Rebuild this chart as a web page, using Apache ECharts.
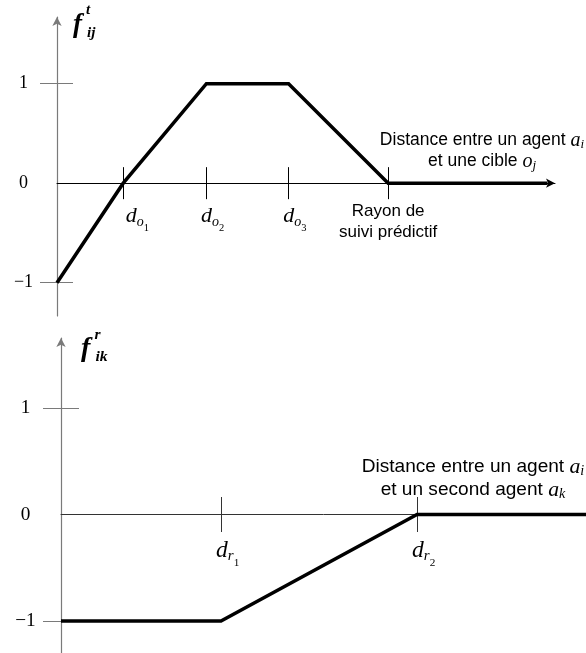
<!DOCTYPE html>
<html>
<head>
<meta charset="utf-8">
<script src="https://cdn.jsdelivr.net/npm/echarts@6/dist/echarts.min.js"></script>
<style>
  html, body { margin: 0; padding: 0; background: #fff; }
  #chart { width: 586px; height: 653px; }
</style>
</head>
<body>
<div id="chart"></div>
<script>
// Upper panel: target-tracking term as a function of agent/target distance
const trackX = [0, 1.33, 3.0, 4.65, 6.65, 9.85];
const trackY = [-1, 0, 1, 1, 0, 0];
const trackMarks = [1.33, 3.0, 4.65, 6.65];
const trackMarkNames = ['do1', 'do2', 'do3', 'radius'];

// Lower panel: repulsion term as a function of agent/agent distance
const repelX = [0, 3.2, 7.12, 10.5];
const repelY = [-1, -1, 0, 0];
const repelMarks = [3.2, 7.12];
const repelMarkNames = ['dr1', 'dr2'];

// Vertical axis ticks and labels (both panels)
const yTickValues = [-1, 1];
const yLabelValues = [-1, 0, 1];

const SERIF = '"Liberation Serif", "DejaVu Serif", serif';
const SANS = '"Liberation Sans", Arial, sans-serif';

const markText = {
  do1: '{padWide|}{d|d}{s|o}{ss|1}',
  do2: '{pad|}{d|d}{s|o}{ss|2}',
  do3: '{pad|}{d|d}{s|o}{ss|3}',
  radius: '{txt|Rayon de}\n{txt|suivi prédictif}',
  dr1: '{pad|}{d|d}{s|r}{ss|1}',
  dr2: '{pad|}{d|d}{s|r}{ss|2}'
};

// distance labels: italic d with a lowered subscript and a further lowered index
function markRich(k) {
  return {
    d: { fontFamily: SERIF, fontStyle: 'italic', fontSize: 22 * k, lineHeight: 36 * k,
         verticalAlign: 'top', padding: [4.5 * k, 0, 0, 0], color: '#000' },
    s: { fontFamily: SERIF, fontStyle: 'italic', fontSize: 14 * k, lineHeight: 14 * k,
         verticalAlign: 'bottom', padding: [0, 0, 8 * k, 0], color: '#000' },
    ss: { fontFamily: SERIF, fontSize: 10.5 * k, lineHeight: 10.5 * k,
          verticalAlign: 'bottom', padding: [0, 0, 3.6 * k, 0], color: '#000' },
    pad: { width: 12.5 * k },
    padWide: { width: 28.5 * k },
    txt: { fontFamily: SANS, fontSize: 17 * k, lineHeight: 21 * k, color: '#000' }
  };
}

function nameRich(k) {
  return {
    t: { fontFamily: SANS, fontSize: 17.5 * k, lineHeight: 21 * k, color: '#000' },
    m: { fontFamily: SERIF, fontStyle: 'italic', fontSize: 20 * k, lineHeight: 21 * k, color: '#000' },
    sub: { fontFamily: SERIF, fontStyle: 'italic', fontSize: 13 * k, lineHeight: 12 * k,
           verticalAlign: 'bottom', color: '#000' }
  };
}

// function symbol f with stacked superscript and subscript
function fRich(k) {
  return {
    f: { fontFamily: SERIF, fontStyle: 'italic', fontWeight: 'bold', fontSize: 27 * k,
         lineHeight: 38, padding: [0, 4 * k, 2, 0], verticalAlign: 'bottom', color: '#000' },
    sup: { fontFamily: SERIF, fontStyle: 'italic', fontWeight: 'bold', fontSize: 15 * k,
           lineHeight: 16 * k, verticalAlign: 'top', width: 1, color: '#000' },
    sub: { fontFamily: SERIF, fontStyle: 'italic', fontWeight: 'bold', fontSize: 15 * k,
           lineHeight: 16 * k, verticalAlign: 'bottom', color: '#000' }
  };
}

function lookup(values, names, v) {
  const i = values.findIndex(x => Math.abs(x - v) < 1e-6);
  return i < 0 ? '' : markText[names[i]];
}

const yLabelFmt = v => (v < 0 ? '\u2212' + Math.abs(v) : String(v));

const off = { show: false };

// builds the main x axis plus a twin axis that carries the upward half of each tick
function xAxes(grid, max, marks, names, k, o) {
  return [
    {
      gridIndex: grid, type: 'value', min: 0, max: max, position: 'bottom',
      splitLine: off,
      axisLine: { onZero: true, symbol: o.arrow ? ['none', 'arrow'] : 'none', symbolSize: [7, 9],
                  lineStyle: { color: o.color, width: 1 } },
      axisTick: { show: true, customValues: marks, length: o.tick, lineStyle: { color: o.color, width: 1 } },
      axisLabel: { show: true, customValues: marks, margin: o.margin, align: 'center',
                   formatter: v => lookup(marks, names, v), rich: markRich(k) },
      name: o.name, nameLocation: 'end', nameGap: o.nameGap,
      nameTextStyle: { align: 'center', verticalAlign: 'bottom', padding: [0, 0, o.namePad, 0], rich: nameRich(o.nameK) }
    },
    {
      gridIndex: grid, type: 'value', min: 0, max: max, position: 'top',
      splitLine: off, axisLabel: off,
      axisLine: { show: false, onZero: true },
      axisTick: { show: true, customValues: marks, length: o.tick, lineStyle: { color: o.color, width: 1 } }
    }
  ];
}

function yAxes(grid, min, max, k, o) {
  return [
    {
      gridIndex: grid, type: 'value', min: min, max: max, position: 'left',
      splitLine: off,
      axisLine: { onZero: true, symbol: ['none', 'arrow'], symbolSize: [7, 9],
                  lineStyle: { color: '#7a7a7a', width: 1.2 } },
      axisTick: { show: true, customValues: yTickValues, length: o.tickL, lineStyle: { color: '#7a7a7a', width: 1 } },
      axisLabel: { show: true, customValues: yLabelValues, margin: o.labelMargin, align: 'center',
                   formatter: yLabelFmt, fontFamily: SERIF, fontSize: 18 * k, color: '#000' },
      name: o.name, nameLocation: 'end', nameGap: o.nameGap,
      nameTextStyle: { align: 'left', verticalAlign: 'middle', padding: [0, 0, 0, o.namePadLeft], rich: fRich(o.fK) }
    },
    {
      gridIndex: grid, type: 'value', min: min, max: max, position: 'right',
      splitLine: off, axisLabel: off,
      axisLine: { show: false, onZero: true },
      axisTick: { show: true, customValues: yTickValues, length: o.tickR, lineStyle: { color: '#7a7a7a', width: 1 } }
    }
  ];
}

const chart = echarts.init(document.getElementById('chart'), null, { renderer: 'canvas' });

const option = {
  animation: false,
  backgroundColor: '#fff',
  grid: [
    { left: 57, top: 17, width: 498, height: 299, containLabel: false, outerBoundsMode: 'none' },
    { left: 61, top: 338, width: 525, height: 315, containLabel: false, outerBoundsMode: 'none' }
  ],
  xAxis: [
    ...xAxes(0, 10, trackMarks, trackMarkNames, 1, {
      arrow: true, color: '#000', tick: 16, margin: -115, nameK: 1,
      name: '{t|Distance entre un agent }{m|a}{sub|i}\n{t|et une cible }{m|o}{sub|j}',
      nameGap: -73, namePad: 11
    }),
    ...xAxes(1, 10.5, repelMarks, repelMarkNames, 1.07, {
      arrow: false, color: '#333', tick: 17.5, margin: -119, nameK: 1.09,
      name: '{t|Distance entre un agent }{m|a}{sub|i}\n{t|et un second agent }{m|a}{sub|k}',
      nameGap: -113, namePad: 13
    })
  ],
  yAxis: [
    ...yAxes(0, -1.335, 1.67, 1, {
      tickL: 17, tickR: 16, labelMargin: 33.5, fK: 1,
      name: '{f|f}{sup|t}{sub|ij}', nameGap: -5, namePadLeft: 16
    }),
    ...yAxes(1, -1.3, 1.657, 1.07, {
      tickL: 18, tickR: 18, labelMargin: 35.5, fK: 1.04,
      name: '{f|f}{sup|r}{sub|ik}', nameGap: -7.5, namePadLeft: 20
    })
  ],
  series: [
    {
      type: 'line', xAxisIndex: 0, yAxisIndex: 0,
      data: trackX.map((x, i) => [x, trackY[i]]),
      showSymbol: false, clip: false, silent: true,
      lineStyle: { color: '#000', width: 3.5, join: 'miter', cap: 'butt' }
    },
    {
      type: 'line', xAxisIndex: 2, yAxisIndex: 2,
      data: repelX.map((x, i) => [x, repelY[i]]),
      showSymbol: false, clip: false, silent: true,
      lineStyle: { color: '#000', width: 3.5, join: 'miter', cap: 'butt' }
    }
  ]
};

chart.setOption(option);
</script>
</body>
</html>
